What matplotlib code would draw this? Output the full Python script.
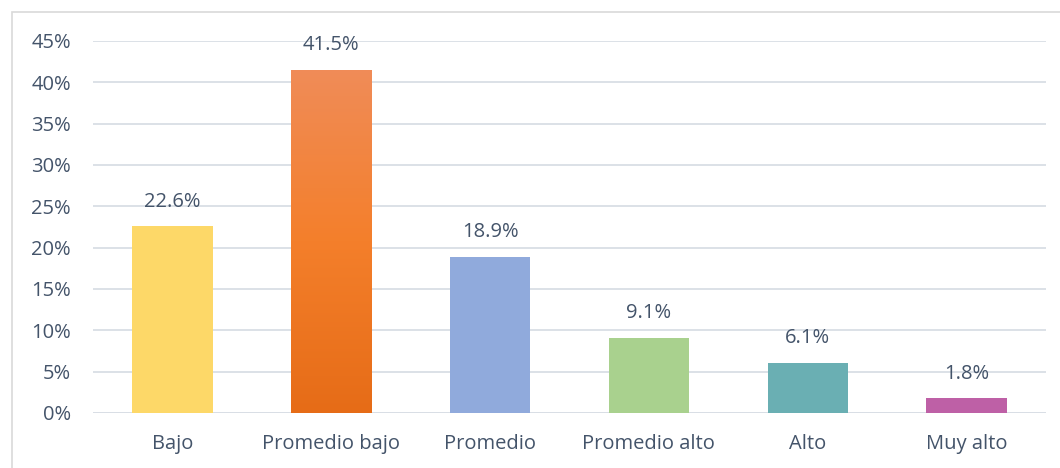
import matplotlib
matplotlib.use("Agg")
import matplotlib.pyplot as plt
import numpy as np
from matplotlib.colors import LinearSegmentedColormap
from matplotlib.patches import Rectangle

categories = ["Bajo", "Promedio bajo", "Promedio", "Promedio alto", "Alto", "Muy alto"]
values = [0.226, 0.415, 0.189, 0.091, 0.061, 0.018]
labels = ["22.6%", "41.5%", "18.9%", "9.1%", "6.1%", "1.8%"]
colors = ["#FDD868", "#F47F2B", "#90AADC", "#A9D18E", "#6AAFB3", "#BE60A6"]
yticks = [0, 0.05, 0.10, 0.15, 0.20, 0.25, 0.30, 0.35, 0.40, 0.45]
ytick_labels = ["0%", "5%", "10%", "15%", "20%", "25%", "30%", "35%", "40%", "45%"]

plt.rcParams['font.family'] = ['Open Sans', 'DejaVu Sans']
text_color = "#44546A"

fig = plt.figure(figsize=(10.6, 4.68), dpi=100)
# outer chart border (only top and left visible)
fig.patches.append(Rectangle((12/1060, -0.1), 1.0, 1.1 - 12/468, transform=fig.transFigure,
                             fill=False, edgecolor="#D9D9D9", linewidth=1.2))
ax = fig.add_axes([93/1060, 55/468, (1046-93)/1060, (413-41)/468])

x = np.arange(len(categories))
bars = ax.bar(x, values, width=0.505, color=colors, zorder=3)

# gradient for the orange bar
grad_cmap = LinearSegmentedColormap.from_list("og", ["#E66C17", "#F47F2B", "#F08C58"])
b = bars[1]
bx, by = b.get_x(), b.get_y()
bw, bh = b.get_width(), b.get_height()
grad = np.linspace(0, 1, 256).reshape(-1, 1)
im = ax.imshow(grad, extent=(bx, bx + bw, by, by + bh), origin="lower",
               cmap=grad_cmap, aspect="auto", zorder=4)
im.set_clip_path(b)

for xi, v, lab in zip(x, values, labels):
    ax.annotate(lab, (xi, v), xytext=(0, 10.5), textcoords="offset points",
                ha="center", va="bottom", fontsize=14.5, color=text_color)

ax.set_xlim(-0.5, len(categories) - 0.5)
ax.set_ylim(0, 0.45)
ax.set_yticks(yticks)
ax.set_yticklabels(ytick_labels)
ax.set_xticks(x)
ax.set_xticklabels(categories)
ax.tick_params(axis="both", length=0, labelsize=14.5, colors=text_color)
ax.tick_params(axis="y", pad=16)
ax.tick_params(axis="x", pad=15)
ax.grid(axis="y", color="#D9DEE5", linewidth=1.3, zorder=0)
for s in ax.spines.values():
    s.set_visible(False)
ax.axhline(0, color="#D9DEE5", linewidth=1.3, zorder=2)

fig.savefig("out.png", dpi=100)
